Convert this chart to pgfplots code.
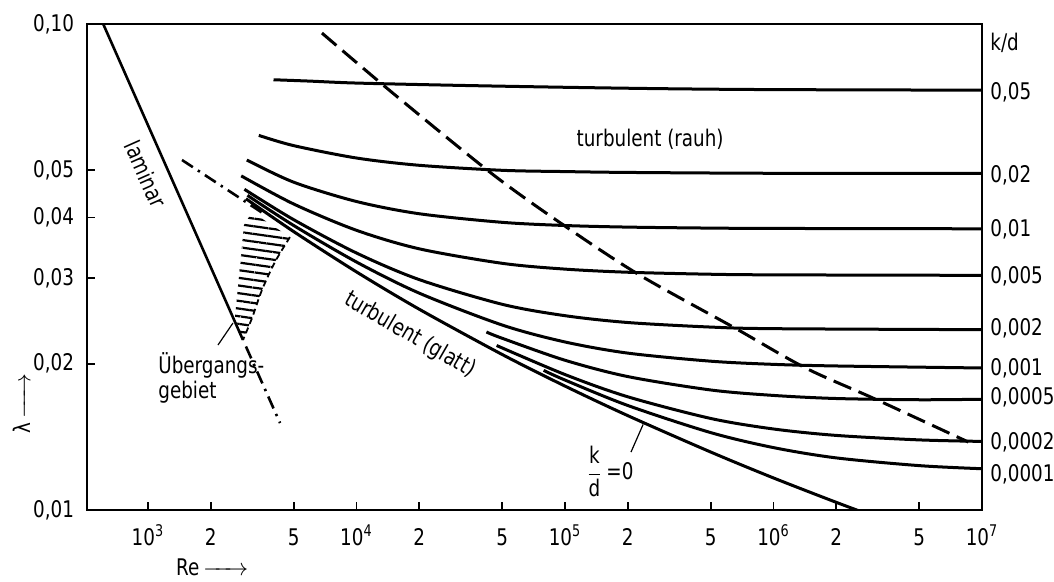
\documentclass[border=0pt]{standalone}
\usepackage{fontspec}
\setmainfont{DejaVu Sans}[FakeStretch=0.8]
\usepackage{amsmath}
\usepackage{pgfplots}
\pgfplotsset{compat=1.18}
\usetikzlibrary{arrows.meta,patterns.meta,calc}

\begin{document}
\begin{tikzpicture}[font=\fontsize{11.5}{12.5}\selectfont]
\begin{axis}[
  scale only axis, width=447.5bp, height=243bp,
  xmode=log, ymode=log,
  xmin=510, xmax=1e7, ymin=0.01, ymax=0.1,
  clip mode=individual,
  axis line style={line width=1bp},
  tick align=inside, major tick length=4bp,
  tick style={line width=0.9bp,black},
  minor xtick={}, minor ytick={},
  xtick pos=bottom, ytick pos=left,
  xtick={1e3,2e3,5e3,1e4,2e4,5e4,1e5,2e5,5e5,1e6,2e6,5e6,1e7},
  xticklabels={10\textsuperscript{3},2,5,10\textsuperscript{4},2,5,10\textsuperscript{5},2,5,10\textsuperscript{6},2,5,10\textsuperscript{7}},
  ytick={0.01,0.02,0.03,0.04,0.05,0.1},
  yticklabels={{0,01},{0,02},{0,03},{0,04},{0,05},{0,10}},
  xticklabel style={anchor=base,yshift=-17.5bp},
  yticklabel style={anchor=east,xshift=-3bp},
  xlabel={Re\,$\xrightarrow{\hspace{16bp}}$},
  xlabel style={at={(axis description cs:0.14,-0.118)},anchor=center},
  ylabel={λ\,$\xrightarrow{\hspace{16bp}}$},
  ylabel style={at={(axis description cs:-0.073,0.22)},anchor=center},
  every axis plot/.append style={line width=1.5bp,black},
]
% laminar
\addplot[line width=1.3bp] coordinates {(610,0.1) (2855,0.02238)};
\addplot[line width=1.3bp,dash pattern=on 6.5bp off 3bp on 1.2bp off 3bp] coordinates {(2950,0.0217) (4300,0.0151)};
\addplot[line width=1.3bp,dash pattern=on 6.5bp off 3bp on 1.2bp off 3bp] coordinates {(1456,0.0525) (3560,0.0408)};
% transition region
\addplot[draw=none,pattern={Lines[angle=-8,distance=3.8bp,line width=1.1bp]},pattern color=black] coordinates {
  (2855,0.02238) (2614,0.02494) (2887,0.03858) (3155,0.04103) (4797,0.03644)
  (4064,0.03238) (3521,0.02836) (3155,0.02483) (2855,0.02238)};
\addplot[line width=0.9bp,dash pattern=on 3bp off 2bp,smooth] coordinates {
  (4797,0.03644) (4064,0.03238) (3521,0.02836) (3155,0.02483) (2855,0.02238)};
% boundary rough
\addplot[dash pattern=on 9.5bp off 4bp,smooth] coordinates {
  (6830,0.0958) (14700,0.0725) (45170,0.0490) (1.026e5,0.0381) (2.29e5,0.0304)
  (6.51e5,0.0237) (1.425e6,0.0196) (3.09e6,0.0169) (8.6e6,0.0138)};
% k/d curves
\addplot[smooth] coordinates {(4000,0.0768) (6000,0.0763) (1e4,0.0756) (3e4,0.0748) (1e5,0.0741) (3e5,0.0736) (1e6,0.0733) (1e7,0.0731)};
\addplot[smooth] coordinates {(3400,0.0590) (5000,0.0562) (1e4,0.0530) (2e4,0.0512) (5e4,0.0500) (1e5,0.0497) (2e5,0.0495) (1e6,0.0493) (1e7,0.0493)};
\addplot[smooth] coordinates {(2980,0.0525) (5000,0.04726) (1e4,0.04313) (2e4,0.04070) (5e4,0.03908) (1e5,0.03850) (2e5,0.03821) (5e5,0.03803) (1e6,0.03797) (1e7,0.0379)};
\addplot[smooth] coordinates {(2800,0.0487) (5000,0.04262) (1e4,0.03763) (2e4,0.03447) (5e4,0.03218) (1e5,0.03131) (2e5,0.03085) (5e5,0.03056) (1e6,0.03047) (1e7,0.0304)};
\addplot[smooth] coordinates {(2900,0.0457) (5000,0.03957) (1e4,0.03379) (2e4,0.02979) (5e4,0.02650) (1e5,0.02511) (2e5,0.02431) (5e5,0.02379) (1e6,0.02361) (1e7,0.0235)};
\addplot[smooth] coordinates {(3000,0.0444) (5000,0.0385) (1e4,0.03238) (2e4,0.02794) (5e4,0.02402) (1e5,0.02217) (2e5,0.02103) (5e5,0.02024) (1e6,0.01994) (2e6,0.01979) (1e7,0.0196)};
\addplot[smooth] coordinates {(4.2e4,0.02324) (5e4,0.02256) (1e5,0.02033) (2e5,0.01882) (5e5,0.01766) (1e6,0.01721) (2e6,0.01696) (5e6,0.01686) (1e7,0.0169)};
\addplot[smooth] coordinates {(4.7e4,0.0218) (1e5,0.0190) (2e5,0.0171) (5e5,0.01543) (1e6,0.01468) (2e6,0.01424) (5e6,0.01394) (1e7,0.01384)};
\addplot[smooth] coordinates {(7.9e4,0.01938) (1e5,0.01851) (2e5,0.01641) (5e5,0.01443) (1e6,0.01344) (2e6,0.0128) (5e6,0.01234) (1e7,0.01216)};
% smooth pipe
\addplot[smooth] coordinates {(2950,0.0437) (5000,0.0374) (1e4,0.0309) (2e4,0.02589) (5e4,0.02089) (1e5,0.01799) (2e5,0.01564) (5e5,0.01316) (1e6,0.01164) (2e6,0.01037) (3e6,0.00972)};
% leader lines
\addplot[line width=0.6bp] coordinates {(2166,0.02185) (2556,0.02425)};
\addplot[line width=0.6bp] coordinates {(2.073e5,0.01316) (2.37e5,0.0150)};
% texts
\node[rotate=-66] at (axis cs:978,0.0491) {laminar};
\node at (axis cs:2.56e5,0.058) {turbulent (rauh)};
\node[rotate=-30] at (axis cs:18050,0.0229) {turbulent (glatt)};
\node[anchor=north west,align=left,inner sep=0pt] at (axis cs:1117,0.0211) {Übergangs-\\gebiet};
\node at (axis cs:1.64e5,0.0120) {$\dfrac{\text{k}}{\text{d}}$\,=0};
\begin{scope}[every node/.style={anchor=west,inner sep=1bp,xshift=3bp}]
\node at (axis cs:1e7,0.0914) {k/d};
\node at (axis cs:1e7,0.0725) {0,05};
\node at (axis cs:1e7,0.0489) {0,02};
\node at (axis cs:1e7,0.03786) {0,01};
\node at (axis cs:1e7,0.03031) {0,005};
\node at (axis cs:1e7,0.02368) {0,002};
\node at (axis cs:1e7,0.01959) {0,001};
\node at (axis cs:1e7,0.01708) {0,0005};
\node at (axis cs:1e7,0.0138) {0,0002};
\node at (axis cs:1e7,0.01186) {0,0001};
\end{scope}
\end{axis}
\pgfresetboundingbox
\path[use as bounding box] ($(current axis.south west)+(-43.5bp,-36bp)$) rectangle ($(current axis.north east)+(36bp,12bp)$);
\end{tikzpicture}
\end{document}
